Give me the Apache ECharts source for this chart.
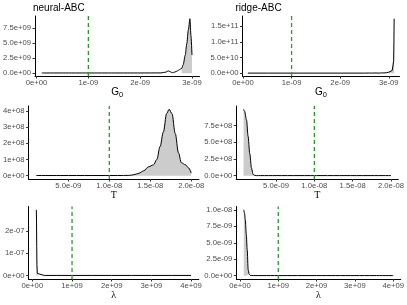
<!DOCTYPE html>
<html><head><meta charset="utf-8">
<script src="https://cdn.jsdelivr.net/npm/echarts@6/dist/echarts.min.js"></script>
<style>html,body{margin:0;padding:0;background:#fff}#c{width:407px;height:305px}</style>
</head><body><div id="c"></div>
<script>
// ---------------- data ----------------
const methodTitles = ['neural-ABC', 'ridge-ABC'];
const trueG0 = 1e-9, trueT = 1e-8, trueLambda = 1e9;

// G0, neural-ABC
const g0NeuralX = [0.1e-9, 0.5e-9, 1.0e-9, 1.5e-9, 2.0e-9, 2.4e-9, 2.5e-9, 2.54e-9, 2.58e-9, 2.62e-9, 2.67e-9, 2.72e-9, 2.76e-9, 2.8e-9, 2.83e-9, 2.87e-9, 2.9e-9, 2.93e-9, 2.96e-9, 2.98e-9, 3.0e-9];
const g0NeuralY = [0.05e9, 0.05e9, 0.05e9, 0.05e9, 0.05e9, 0.06e9, 0.2e9, 0.4e9, 0.25e9, 0.1e9, 0.2e9, 0.4e9, 0.6e9, 0.8e9, 1.4e9, 3.0e9, 4.9e9, 7.2e9, 9.0e9, 6.2e9, 3.0e9];
const g0NeuralShade = [2.78e-9, 3.0e-9];
// G0, ridge-ABC
const g0RidgeX = [0.1e-9, 0.5e-9, 1.0e-9, 1.5e-9, 2.0e-9, 2.5e-9, 2.6e-9, 2.65e-9, 2.7e-9, 2.8e-9, 2.85e-9, 2.9e-9, 2.95e-9, 3.0e-9, 3.04e-9, 3.07e-9, 3.09e-9, 3.1e-9, 3.105e-9, 3.11e-9];
const g0RidgeY = [0.05e10, 0.05e10, 0.05e10, 0.05e10, 0.05e10, 0.05e10, 0.08e10, 0.05e10, 0.1e10, 0.05e10, 0.12e10, 0.1e10, 0.2e10, 0.35e10, 0.6e10, 0.9e10, 1.5e10, 4.0e10, 10.0e10, 17.4e10];
const g0RidgeShade = [2.95e-9, 3.11e-9];
// T, neural-ABC
const tNeuralX = [1.1e-9, 4e-9, 8e-9, 11e-9, 12.5e-9, 13.0e-9, 13.6e-9, 14.2e-9, 14.8e-9, 15.4e-9, 15.8e-9, 16.2e-9, 16.6e-9, 17.0e-9, 17.3e-9, 17.65e-9, 18.05e-9, 18.45e-9, 18.8e-9, 19.3e-9, 19.7e-9, 20.0e-9];
const tNeuralY = [0.01e8, 0.01e8, 0.01e8, 0.01e8, 0.02e8, 0.06e8, 0.15e8, 0.3e8, 0.55e8, 0.67e8, 1.0e8, 1.8e8, 2.7e8, 3.84e8, 4.1e8, 3.84e8, 2.6e8, 1.4e8, 0.8e8, 0.67e8, 0.47e8, 0.16e8];
const tNeuralShade = [12.5e-9, 20.0e-9];
// T, ridge-ABC
const tRidgeX = [0.76e-9, 0.9e-9, 1.15e-9, 1.35e-9, 1.57e-9, 1.79e-9, 2.0e-9, 2.2e-9, 2.45e-9, 3e-9, 5e-9, 8e-9, 11e-9, 14e-9, 17e-9, 20e-9];
const tRidgeY = [9.9e8, 9.6e8, 8.3e8, 5.9e8, 3.3e8, 1.15e8, 0.2e8, 0.05e8, 0.01e8, 0.01e8, 0.01e8, 0.01e8, 0.01e8, 0.01e8, 0.01e8, 0.01e8];
const tRidgeShade = [0.76e-9, 2.5e-9];
// lambda, neural-ABC
const lamNeuralX = [0.1e9, 0.105e9, 0.11e9, 0.115e9, 0.125e9, 0.15e9, 0.3e9, 0.6e9, 1e9, 1.5e9, 2e9, 2.5e9, 3e9, 3.5e9, 4e9];
const lamNeuralY = [2.95e-7, 2.4e-7, 1.3e-7, 0.5e-7, 0.1e-7, 0.02e-7, 0.01e-7, 0.01e-7, 0.01e-7, 0.01e-7, 0.01e-7, 0.01e-7, 0.01e-7, 0.01e-7, 0.01e-7];
const lamNeuralShade = [0.1e9, 0.2e9];
// lambda, ridge-ABC
const lamRidgeX = [0.1e9, 0.12e9, 0.14e9, 0.165e9, 0.19e9, 0.215e9, 0.24e9, 0.27e9, 0.35e9, 0.6e9, 1e9, 1.5e9, 2e9, 2.5e9, 3e9, 3.5e9, 4e9];
const lamRidgeY = [10.0e-9, 9.5e-9, 8.5e-9, 6.3e-9, 3.9e-9, 0.9e-9, 0.25e-9, 0.05e-9, 0.02e-9, 0.02e-9, 0.02e-9, 0.02e-9, 0.02e-9, 0.02e-9, 0.02e-9, 0.02e-9, 0.02e-9];
const lamRidgeShade = [0.1e9, 0.26e9];

// tick values / labels
const g0XTicks = [0, 1e-9, 2e-9, 3e-9];
const g0XLabels = ['0e+00', '1e-09', '2e-09', '3e-09'];
const tXTicks = [5e-9, 1e-8, 1.5e-8, 2e-8];
const tXLabels = ['5.0e-09', '1.0e-08', '1.5e-08', '2.0e-08'];
const lamXTicks = [0, 1e9, 2e9, 3e9, 4e9];
const lamXLabels = ['0e+00', '1e+09', '2e+09', '3e+09', '4e+09'];
const g0NeuralYTicks = [0, 2.5e9, 5e9, 7.5e9];
const g0NeuralYLabels = ['0.0e+00', '2.5e+09', '5.0e+09', '7.5e+09'];
const g0RidgeYTicks = [0, 5e10, 1e11, 1.5e11];
const g0RidgeYLabels = ['0.0e+00', '5.0e+10', '1.0e+11', '1.5e+11'];
const tNeuralYTicks = [0, 1e8, 2e8, 3e8, 4e8];
const tNeuralYLabels = ['0e+00', '1e+08', '2e+08', '3e+08', '4e+08'];
const tRidgeYTicks = [0, 2.5e8, 5e8, 7.5e8];
const tRidgeYLabels = ['0.0e+00', '2.5e+08', '5.0e+08', '7.5e+08'];
const lamNeuralYTicks = [0, 1e-7, 2e-7];
const lamNeuralYLabels = ['0e+00', '1e-07', '2e-07'];
const lamRidgeYTicks = [0, 2.5e-9, 5e-9, 7.5e-9, 1e-8];
const lamRidgeYLabels = ['0.0e+00', '2.5e-09', '5.0e-09', '7.5e-09', '1.0e-08'];

// ---------------- layout ----------------
const G0NAME = '{g|G}{s|0}';
const panels = [
  {x:g0NeuralX, y:g0NeuralY, shade:g0NeuralShade, truth:trueG0, xt:g0XTicks, xl:g0XLabels, yt:g0NeuralYTicks, yl:g0NeuralYLabels,
   name:G0NAME, gap:8, grid:{left:34.4, top:16, width:165.1, height:60}, xr:[-0.03e-9, 3.145e-9], yr:[-0.45e9, 9.45e9], smooth:0.25},
  {x:g0RidgeX, y:g0RidgeY, shade:g0RidgeShade, truth:trueG0, xt:g0XTicks, xl:g0XLabels, yt:g0RidgeYTicks, yl:g0RidgeYLabels,
   name:G0NAME, gap:8, grid:{left:242.5, top:16, width:157, height:60}, xr:[-0.01e-9, 3.22e-9], yr:[-0.87e10, 18.27e10], smooth:0},
  {x:tNeuralX, y:tNeuralY, shade:tNeuralShade, truth:trueT, xt:tXTicks, xl:tXLabels, yt:tNeuralYTicks, yl:tNeuralYLabels,
   name:'T', gap:10, grid:{left:26.9, top:106, width:172.1, height:73}, xr:[0.15e-9, 20.95e-9], yr:[-0.205e8, 4.305e8], smooth:0.35},
  {x:tRidgeX, y:tRidgeY, shade:tRidgeShade, truth:trueT, xt:tXTicks, xl:tXLabels, yt:tRidgeYTicks, yl:tRidgeYLabels,
   name:'T', gap:10, grid:{left:236.2, top:106, width:164.4, height:73}, xr:[-0.2e-9, 20.96e-9], yr:[-0.5e8, 10.4e8], smooth:0.3},
  {x:lamNeuralX, y:lamNeuralY, shade:lamNeuralShade, truth:trueLambda, xt:lamXTicks, xl:lamXLabels, yt:lamNeuralYTicks, yl:lamNeuralYLabels,
   name:'λ', gap:11, grid:{left:27.2, top:206.5, width:171.6, height:72.5}, xr:[-0.095e9, 4.195e9], yr:[-0.15e-7, 3.1e-7], smooth:0},
  {x:lamRidgeX, y:lamRidgeY, shade:lamRidgeShade, truth:trueLambda, xt:lamXTicks, xl:lamXLabels, yt:lamRidgeYTicks, yl:lamRidgeYLabels,
   name:'λ', gap:11, grid:{left:236.3, top:206.5, width:166.2, height:72.5}, xr:[-0.095e9, 4.195e9], yr:[-0.05e-8, 1.05e-8], smooth:0.3}
];

function labeler(vals, labs) {
  return function (v) {
    let best = 0, bd = Infinity;
    for (let i = 0; i < vals.length; i++) { const d = Math.abs(vals[i] - v); if (d < bd) { bd = d; best = i; } }
    return labs[best];
  };
}

const FONT = 'Liberation Sans';
const grids = [], xAxes = [], yAxes = [], series = [];
panels.forEach((p, i) => {
  grids.push(Object.assign({containLabel:false}, p.grid));
  const serif = (p.name === 'T' || p.name === 'λ');
  xAxes.push({
    type:'value', gridIndex:i, min:p.xr[0], max:p.xr[1],
    name:p.name, nameLocation:'middle', nameGap:p.gap,
    nameTextStyle:{
      color:'#000', fontSize:10, fontFamily: serif ? 'Liberation Serif' : FONT,
      rich:{ g:{fontSize:10, fontFamily:FONT, color:'#000'}, s:{fontSize:7.5, fontFamily:FONT, color:'#000', padding:[6,0,0,0]} }
    },
    splitLine:{show:false},
    axisLine:{show:true, onZero:false, lineStyle:{color:'#000', width:1}},
    axisTick:{show:true, length:2.5, customValues:p.xt, lineStyle:{color:'#333', width:1}},
    axisLabel:{customValues:p.xt, formatter:labeler(p.xt, p.xl), fontSize:7.7, fontFamily:FONT, color:'#4d4d4d', margin:2.5}
  });
  yAxes.push({
    type:'value', gridIndex:i, min:p.yr[0], max:p.yr[1],
    splitLine:{show:false},
    axisLine:{show:true, onZero:false, lineStyle:{color:'#000', width:1}},
    axisTick:{show:true, length:2.5, customValues:p.yt, lineStyle:{color:'#333', width:1}},
    axisLabel:{customValues:p.yt, formatter:labeler(p.yt, p.yl), fontSize:7.7, fontFamily:FONT, color:'#4d4d4d', margin:4}
  });
  const pts = p.x.map((v, k) => [v, p.y[k]]);
  const shadePts = pts.filter(q => q[0] >= p.shade[0] && q[0] <= p.shade[1]);
  series.push({
    type:'line', xAxisIndex:i, yAxisIndex:i, data:shadePts, showSymbol:false, silent:true,
    smooth:p.smooth, smoothMonotone:'x', lineStyle:{width:0, opacity:0},
    areaStyle:{color:'#cccccc', opacity:1, origin:0}, z:1
  });
  series.push({
    type:'line', xAxisIndex:i, yAxisIndex:i, data:pts, showSymbol:false, silent:true,
    smooth:p.smooth, smoothMonotone:'x', lineStyle:{color:'#000', width:1}, z:3
  });
  // vertical dashed line at the true value, spanning the whole panel
  series.push({
    type:'line', xAxisIndex:i, yAxisIndex:i, data:[[p.truth, p.yr[0]], [p.truth, p.yr[1]]],
    showSymbol:false, silent:true, clip:true,
    lineStyle:{color:'#2a9a2a', width:1.3, type:[4,3]}, z:4
  });
});

const chart = echarts.init(document.getElementById('c'), null, {renderer:'canvas'});
chart.setOption({
  backgroundColor:'#fff',
  animation:false,
  title:[
    {text:methodTitles[0], left:33, top:3, padding:0, textStyle:{fontSize:10, fontWeight:'normal', color:'#000', fontFamily:FONT}},
    {text:methodTitles[1], left:235.5, top:3, padding:0, textStyle:{fontSize:10, fontWeight:'normal', color:'#000', fontFamily:FONT}}
  ],
  grid:grids, xAxis:xAxes, yAxis:yAxes, series:series
});
</script></body></html>
